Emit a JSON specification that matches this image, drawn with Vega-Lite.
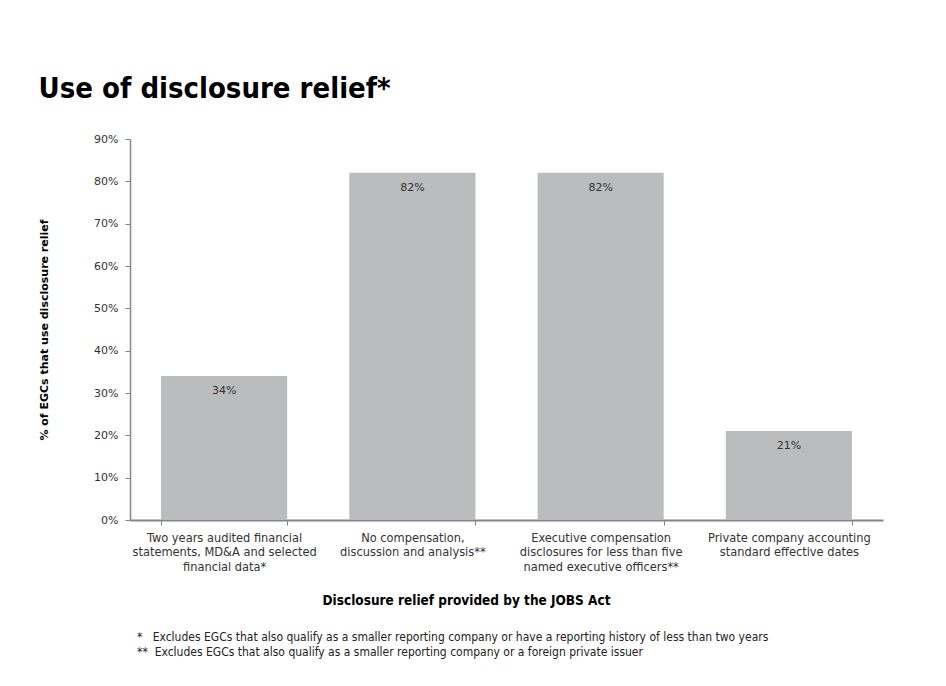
{
  "$schema": "https://vega.github.io/schema/vega-lite/v6.json",
  "background": "white",
  "padding": {"left": 38, "top": 75, "right": 10, "bottom": 10},
  "title": {
    "text": "Use of disclosure relief*",
    "anchor": "start",
    "font": "Liberation Sans Narrow, DejaVu Sans Condensed, sans-serif",
    "fontSize": 29,
    "fontWeight": "bold",
    "color": "#000000",
    "offset": 29
  },
  "config": {
    "view": {"stroke": null},
    "axis": {
      "domainColor": "#868686",
      "domainWidth": 1.5,
      "tickColor": "#868686",
      "tickSize": 5,
      "labelColor": "#333333",
      "grid": false
    }
  },
  "vconcat": [
    {
      "width": 753,
      "height": 381,
      "title": {
        "text": [
          "*\u00a0\u00a0\u00a0Excludes EGCs that also qualify as a smaller reporting company or have a reporting history of less than two years",
          "**\u00a0\u00a0Excludes EGCs that also qualify as a smaller reporting company or a foreign private issuer"
        ],
        "orient": "bottom",
        "anchor": "start",
        "frame": "group",
        "font": "DejaVu Sans Condensed, Liberation Sans Narrow, sans-serif",
        "fontSize": 12,
        "fontWeight": "normal",
        "color": "#222222",
        "lineHeight": 15,
        "offset": 25,
        "dx": 7
      },
      "data": {
        "values": [
          {"cat": "Two years audited financial|statements, MD&A and selected|financial data*", "v": 0.34},
          {"cat": "No compensation,|discussion and analysis**", "v": 0.82},
          {"cat": "Executive compensation|disclosures for less than five|named executive officers**", "v": 0.82},
          {"cat": "Private company accounting|standard effective dates", "v": 0.21}
        ]
      },
      "encoding": {
        "x": {
          "field": "cat",
          "type": "nominal",
          "sort": null,
          "scale": {"paddingInner": 0.33, "paddingOuter": 0.165},
          "axis": {
            "title": "Disclosure relief provided by the JOBS Act",
            "titleFont": "DejaVu Sans Condensed, Liberation Sans Narrow, sans-serif",
            "titleFontSize": 13.5,
            "titleFontWeight": "bold",
            "titleColor": "#000000",
            "titlePadding": 21,
            "titleX": 336,
            "labelExpr": "split(datum.label, '|')",
            "labelAngle": 0,
            "labelFont": "DejaVu Sans Condensed, Liberation Sans Narrow, sans-serif",
            "labelFontSize": 12.7,
            "labelLineHeight": 14.5,
            "labelPadding": 6,
            "labelLimit": 200,
            "tickBand": "extent",
            "domainWidth": 2
          }
        },
        "y": {
          "field": "v",
          "type": "quantitative",
          "scale": {"domain": [0, 0.9], "nice": false},
          "axis": {
            "values": [0, 0.1, 0.2, 0.3, 0.4, 0.5, 0.6, 0.7, 0.8, 0.9],
            "format": ".0%",
            "title": "% of EGCs that use disclosure relief",
            "titleFont": "DejaVu Sans",
            "titleFontSize": 11,
            "titleFontWeight": "bold",
            "titleColor": "#000000",
            "titlePadding": 44,
            "labelFont": "DejaVu Sans",
            "labelFontSize": 11,
            "labelPadding": 7
          }
        }
      },
      "layer": [
        {"mark": {"type": "bar", "color": "#bbbcbe"}},
        {
          "mark": {"type": "text", "baseline": "middle", "dy": 15, "font": "DejaVu Sans", "fontSize": 11, "color": "#333333"},
          "encoding": {"text": {"field": "v", "type": "quantitative", "format": ".0%"}}
        }
      ]
    }
  ]
}
